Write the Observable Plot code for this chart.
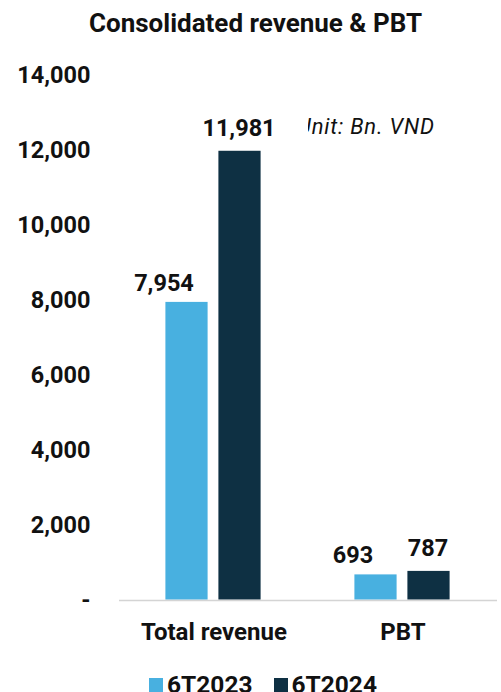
<!DOCTYPE html>
<html><head><meta charset="utf-8">
<script src="https://cdn.jsdelivr.net/npm/d3@7"></script>
<script src="https://cdn.jsdelivr.net/npm/@observablehq/plot@0.6"></script>
<style>
body{margin:0;background:#fff;font-family:Roboto,sans-serif;width:501px;height:692px;overflow:hidden;position:relative;}
#title{height:50px;line-height:46px;text-align:center;font-weight:bold;font-size:26px;color:#111;padding-left:10px;}
#unit{position:absolute;left:308px;top:116px;line-height:22px;overflow:hidden;white-space:nowrap;font-style:italic;font-size:22px;letter-spacing:0.8px;color:#111;}
#unit span{display:inline-block;margin-left:-11px;}
#legend{position:absolute;left:0;right:0;top:672px;line-height:25px;display:flex;justify-content:center;align-items:flex-start;gap:21px;font-weight:bold;font-size:24.5px;color:#111;padding-left:25px;}
#legend .it{display:flex;align-items:flex-start;gap:4px;}
#legend .sw{width:14px;height:14px;display:inline-block;margin-top:6px;}
</style></head>
<body>
<div id="title">Consolidated revenue &amp; PBT</div>
<div id="chart"></div>
<div id="legend"></div>
<div id="unit"><span>Unit: Bn. VND</span></div>
<script>
const categories = ["Total revenue", "PBT"];
const series = ["6T2023", "6T2024"];
const values2023 = [7954, 693];
const values2024 = [11981, 787];
const colors = ["#48b0e0", "#0e3043"];
const yTicks = [0, 2000, 4000, 6000, 8000, 10000, 12000, 14000];

const data = categories.flatMap((c, i) => [
  {category: c, series: series[0], value: values2023[i]},
  {category: c, series: series[1], value: values2024[i]}
]);
const fmt = d3.format(",");

const chart = Plot.plot({
  width: 501, height: 600,
  marginLeft: 118, marginRight: 4, marginTop: 24.5, marginBottom: 50,
  style: {fontFamily: "Roboto, sans-serif", fontWeight: "bold", fontSize: "23.5px", color: "#111", background: "transparent", overflow: "visible"},
  fx: {domain: categories, padding: 0, axis: "bottom", tickSize: 0, tickPadding: 22, label: null},
  x: {domain: series, paddingInner: 0.185, paddingOuter: 0.847, axis: null},
  y: {domain: [0, 14000], ticks: yTicks, tickFormat: d => d === 0 ? "-" : fmt(d), tickSize: 0, tickPadding: 29, label: null},
  color: {domain: series, range: colors},
  marks: [
    Plot.barY(data, {fx: "category", x: "series", y: "value", fill: "series", stroke: "#fff", strokeWidth: 0.8}),
    Plot.ruleY([0], {stroke: "#d4d4d4", strokeWidth: 1.5}),
    Plot.text(data.filter(d => d.series === series[0]), {fx: "category", x: "series", y: "value", text: d => fmt(d.value), lineAnchor: "bottom", dy: -11, dx: -23, fill: "#111"}),
    Plot.text(data.filter(d => d.series === series[1]), {fx: "category", x: "series", y: "value", text: d => fmt(d.value), lineAnchor: "bottom", dy: -15, dx: -1, fill: "#111"})
  ]
});
chart.querySelectorAll('g[aria-label="fx-axis tick label"] text').forEach(t => t.style.fontSize = "24px");
document.getElementById("chart").appendChild(chart);

const leg = document.getElementById("legend");
series.forEach((s, i) => {
  const it = document.createElement("div");
  it.className = "it";
  const sw = document.createElement("span");
  sw.className = "sw";
  sw.style.background = colors[i];
  const t = document.createElement("span");
  t.textContent = s;
  it.appendChild(sw); it.appendChild(t);
  leg.appendChild(it);
});
</script>
</body></html>
